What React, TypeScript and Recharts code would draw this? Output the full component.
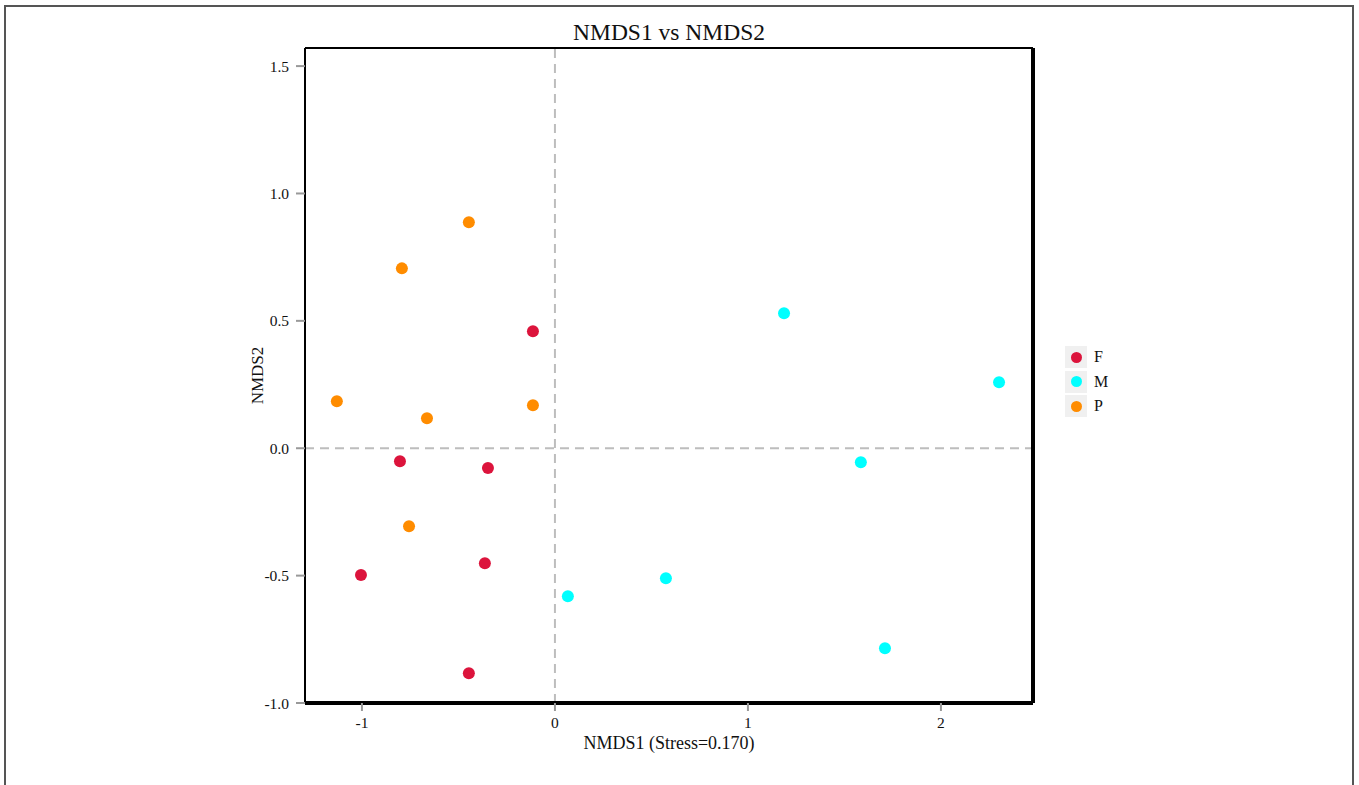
import React from 'react';
import {
  ScatterChart,
  Scatter,
  XAxis,
  YAxis,
  ReferenceLine,
  Legend,
  Label,
} from 'recharts';

// NMDS ordination scores per group
const fPoints = [
  { x: -0.114, y: 0.459 },
  { x: -0.803, y: -0.051 },
  { x: -0.347, y: -0.078 },
  { x: -1.005, y: -0.498 },
  { x: -0.363, y: -0.451 },
  { x: -0.446, y: -0.883 },
];

const mPoints = [
  { x: 1.187, y: 0.53 },
  { x: 2.301, y: 0.259 },
  { x: 1.585, y: -0.055 },
  { x: 0.067, y: -0.581 },
  { x: 0.575, y: -0.51 },
  { x: 1.71, y: -0.785 },
];

const pPoints = [
  { x: -0.446, y: 0.887 },
  { x: -0.793, y: 0.706 },
  { x: -1.13, y: 0.184 },
  { x: -0.663, y: 0.118 },
  { x: -0.114, y: 0.169 },
  { x: -0.756, y: -0.306 },
];

const groups = [
  { name: 'F', color: '#DC143C', data: fPoints },
  { name: 'M', color: '#00FFFF', data: mPoints },
  { name: 'P', color: '#FF8C00', data: pPoints },
];

const xTicks = [-1, 0, 1, 2];
const yTicks = [-1.0, -0.5, 0.0, 0.5, 1.0, 1.5];
const xDomain = [-1.295, 2.477];
const yDomain = [-1.0, 1.571];

const FONT = '"Liberation Serif", "Times New Roman", serif';

const LegendBox = () => (
  <div style={{ fontFamily: FONT }}>
    {groups.map((g) => (
      <div key={g.name} style={{ display: 'flex', alignItems: 'center', height: 24.5 }}>
        <div
          style={{
            width: 22,
            height: 22,
            background: '#f0f0f0',
            display: 'flex',
            alignItems: 'center',
            justifyContent: 'center',
          }}
        >
          <div style={{ width: 11, height: 11, borderRadius: '50%', background: g.color }} />
        </div>
        <span style={{ marginLeft: 7, fontSize: 16, color: '#111' }}>{g.name}</span>
      </div>
    ))}
  </div>
);

export default function App() {
  return (
    <div
      style={{
        position: 'absolute',
        left: 0,
        top: 0,
        width: 1359,
        height: 785,
        overflow: 'hidden',
        background: '#fff',
      }}
    >
      {/* outer frame around the figure */}
      <div
        style={{
          position: 'absolute',
          left: 4,
          top: 5,
          width: 1346,
          height: 820,
          border: '2px solid #555',
        }}
      />
      <div
        style={{
          position: 'absolute',
          left: 0,
          top: 18,
          width: 1338,
          textAlign: 'center',
          fontFamily: FONT,
          fontSize: 23.5,
          lineHeight: '28px',
          color: '#111',
        }}
      >
        NMDS1 vs NMDS2
      </div>
      <div style={{ position: 'absolute', left: 0, top: 0 }}>
        <ScatterChart
          width={1359}
          height={785}
          margin={{ top: 48, right: 266, bottom: 52, left: 245 }}
        >
          <XAxis
            type="number"
            dataKey="x"
            domain={xDomain}
            ticks={xTicks}
            allowDataOverflow
            height={30}
            axisLine={{ stroke: '#000', strokeWidth: 4 }}
            tickLine={{ stroke: '#999', strokeWidth: 2 }}
            tickSize={8}
            tick={{ fill: '#111', fontSize: 15.5, fontFamily: FONT, dy: 4 }}
          >
            <Label
              value="NMDS1 (Stress=0.170)"
              position="bottom"
              offset={0}
              dy={3}
              style={{ fill: '#111', fontSize: 18, fontFamily: FONT }}
            />
          </XAxis>
          <YAxis
            type="number"
            dataKey="y"
            domain={yDomain}
            ticks={yTicks}
            allowDataOverflow
            width={60}
            axisLine={{ stroke: '#000', strokeWidth: 2 }}
            tickLine={{ stroke: '#999', strokeWidth: 2 }}
            tickSize={9}
            tickFormatter={(v: number) => v.toFixed(1)}
            tick={{ fill: '#111', fontSize: 15.5, fontFamily: FONT, dx: -5 }}
          >
            <Label
              value="NMDS2"
              angle={-90}
              position="left"
              offset={-12}
              style={{ fill: '#111', fontSize: 17, fontFamily: FONT, textAnchor: 'middle' }}
            />
          </YAxis>
          <ReferenceLine x={0} stroke="#bdbdbd" strokeWidth={2} strokeDasharray="9 6" />
          <ReferenceLine y={0} stroke="#bdbdbd" strokeWidth={2} strokeDasharray="9 6" />
          <ReferenceLine y={yDomain[1]} stroke="#000" strokeWidth={2} />
          <ReferenceLine x={xDomain[1]} stroke="#000" strokeWidth={4} />
          <Legend
            layout="vertical"
            align="right"
            verticalAlign="middle"
            content={() => <LegendBox />}
            wrapperStyle={{ position: 'absolute', left: 1065, top: 345, width: 60 }}
          />
          {groups.map((g) => (
            <Scatter
              key={g.name}
              name={g.name}
              data={g.data}
              fill={g.color}
              isAnimationActive={false}
              shape={(props: any) => <circle cx={props.cx} cy={props.cy} r={6} fill={g.color} />}
            />
          ))}
        </ScatterChart>
      </div>
    </div>
  );
}
